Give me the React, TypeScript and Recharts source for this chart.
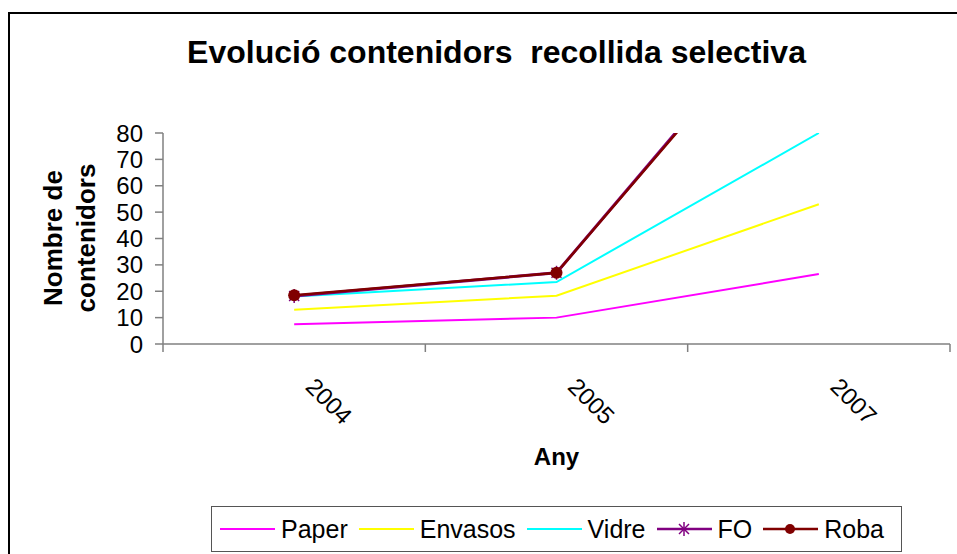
import React from 'react';
import { LineChart, Line, XAxis, YAxis, Legend } from 'recharts';

const years = ['2004', '2005', '2007'];
const paper = [7.5, 10, 26.5];
const envasos = [13, 18.3, 53];
const vidre = [18, 23.5, 80];
const fo = [18.2, 27, 144];
const roba = [18.5, 27, 143];
const yTicks = [0, 10, 20, 30, 40, 50, 60, 70, 80];

const FONT = '"Liberation Sans", Arial, sans-serif';
const W = 957;
const H = 554;
const PLOT_LEFT = 163;
const PLOT_RIGHT = 950;
const PLOT_TOP = 133;
const PLOT_BOTTOM = 344;

const series = [
  { key: 'Paper', values: paper, color: '#FF00FF', width: 2, marker: 'none' },
  { key: 'Envasos', values: envasos, color: '#FFFF00', width: 2, marker: 'none' },
  { key: 'Vidre', values: vidre, color: '#00FFFF', width: 2, marker: 'none' },
  { key: 'FO', values: fo, color: '#800080', width: 3, marker: 'star' },
  { key: 'Roba', values: roba, color: '#800000', width: 2.5, marker: 'circle' },
];

// x position = middle of each category band
const data = years.map((y, i) => {
  const row: any = { year: y, pos: i + 0.5 };
  series.forEach((s) => {
    row[s.key] = s.values[i];
  });
  return row;
});

const StarMark = ({ cx, cy, color }: any) => {
  if (cx == null || cy == null) return null;
  const r = 5;
  return (
    <g stroke={color} strokeWidth={1.5}>
      <line x1={cx - r} y1={cy - r} x2={cx + r} y2={cy + r} />
      <line x1={cx - r} y1={cy + r} x2={cx + r} y2={cy - r} />
      <line x1={cx} y1={cy - r - 2} x2={cx} y2={cy + r + 2} />
    </g>
  );
};

const CircleMark = ({ cx, cy, color, r = 6 }: any) => {
  if (cx == null || cy == null) return null;
  return <circle cx={cx} cy={cy} r={r} fill={color} />;
};

const XTick = ({ x, y, payload }: any) => {
  const v = payload.value;
  if (Number.isInteger(v)) {
    return <line x1={x} y1={y} x2={x} y2={y + 8} stroke="#808080" strokeWidth={1.5} />;
  }
  const label = years[Math.floor(v)];
  return (
    <text
      transform={`translate(${x + 35},${y + 57}) rotate(45)`}
      textAnchor="middle"
      dominantBaseline="central"
      fontSize={24}
      fontFamily={FONT}
      fill="#000"
    >
      {label}
    </text>
  );
};

const YLabel = () => (
  <g fontFamily={FONT} fontWeight="bold" fontSize={26} fill="#000">
    <text transform="translate(62,238) rotate(-90)" textAnchor="middle">Nombre de</text>
    <text transform="translate(95,238) rotate(-90)" textAnchor="middle">contenidors</text>
  </g>
);

const LegendBox = () => (
  <div
    style={{
      border: '1px solid #555',
      width: 691,
      height: 46,
      boxSizing: 'border-box',
      display: 'flex',
      alignItems: 'center',
      paddingLeft: 8,
      fontFamily: FONT,
      fontSize: 25,
      color: '#000',
      background: '#fff',
    }}
  >
    {series.map((s) => (
      <div key={s.key} style={{ display: 'flex', alignItems: 'center', marginRight: 11 }}>
        <svg width={55} height={20} style={{ marginRight: 6 }}>
          <line x1={0} y1={10} x2={55} y2={10} stroke={s.color} strokeWidth={s.marker === 'none' ? 2 : 2.5} />
          {s.marker === 'star' && <StarMark cx={27} cy={10} color={s.color} />}
          {s.marker === 'circle' && <CircleMark cx={27} cy={10} color={s.color} r={5} />}
        </svg>
        <span>{s.key}</span>
      </div>
    ))}
  </div>
);

export default function App() {
  return (
    <div style={{ position: 'absolute', left: 0, top: 0, width: W, height: H, overflow: 'hidden', background: '#fff' }}>
      <div
        style={{
          position: 'absolute',
          left: 8,
          top: 12,
          width: 1000,
          height: 600,
          border: '2px solid #000',
          boxSizing: 'border-box',
        }}
      />
      <div
        style={{
          position: 'absolute',
          left: 0,
          top: 36,
          width: 993,
          textAlign: 'center',
          fontFamily: FONT,
          fontWeight: 'bold',
          fontSize: 32,
          lineHeight: '32px',
          whiteSpace: 'pre',
        }}
      >
        {'Evolució contenidors  recollida selectiva'}
      </div>
      <div style={{ position: 'absolute', left: 0, top: 0 }}>
        <LineChart
          width={W}
          height={H}
          data={data}
          margin={{ top: PLOT_TOP, right: W - PLOT_RIGHT, bottom: H - PLOT_BOTTOM - 100, left: PLOT_LEFT - 60 }}
        >
          <XAxis
            dataKey="pos"
            type="number"
            domain={[0, 3]}
            ticks={[0, 0.5, 1, 1.5, 2, 2.5, 3]}
            interval={0}
            height={100}
            stroke="#808080"
            strokeWidth={1.5}
            tickLine={false}
            tickSize={0}
            tickMargin={0}
            tick={<XTick />}
            label={{ value: 'Any', position: 'insideTop', offset: 104, fontSize: 24, fontWeight: 'bold', fontFamily: FONT, fill: '#000' }}
          />
          <YAxis
            width={60}
            domain={[0, 80]}
            ticks={yTicks}
            allowDataOverflow
            interval={0}
            stroke="#808080"
            strokeWidth={1.5}
            tickSize={8}
            tickMargin={12}
            tick={{ fontSize: 24, fontFamily: FONT, fill: '#000' }}
            label={{ content: <YLabel /> }}
          />
          {series.map((s) => (
            <Line
              key={s.key}
              type="linear"
              dataKey={s.key}
              stroke={s.color}
              strokeWidth={s.width}
              isAnimationActive={false}
              dot={
                s.marker === 'star'
                  ? (p: any) => <StarMark key={p.index} cx={p.cx} cy={p.cy} color={s.color} />
                  : s.marker === 'circle'
                  ? (p: any) => <CircleMark key={p.index} cx={p.cx} cy={p.cy} color={s.color} />
                  : false
              }
              activeDot={false}
            />
          ))}
          <Legend
            layout="horizontal"
            align="center"
            verticalAlign="middle"
            wrapperStyle={{ left: 211, top: 506, width: 691, height: 46 }}
            content={<LegendBox />}
          />
        </LineChart>
      </div>
    </div>
  );
}
